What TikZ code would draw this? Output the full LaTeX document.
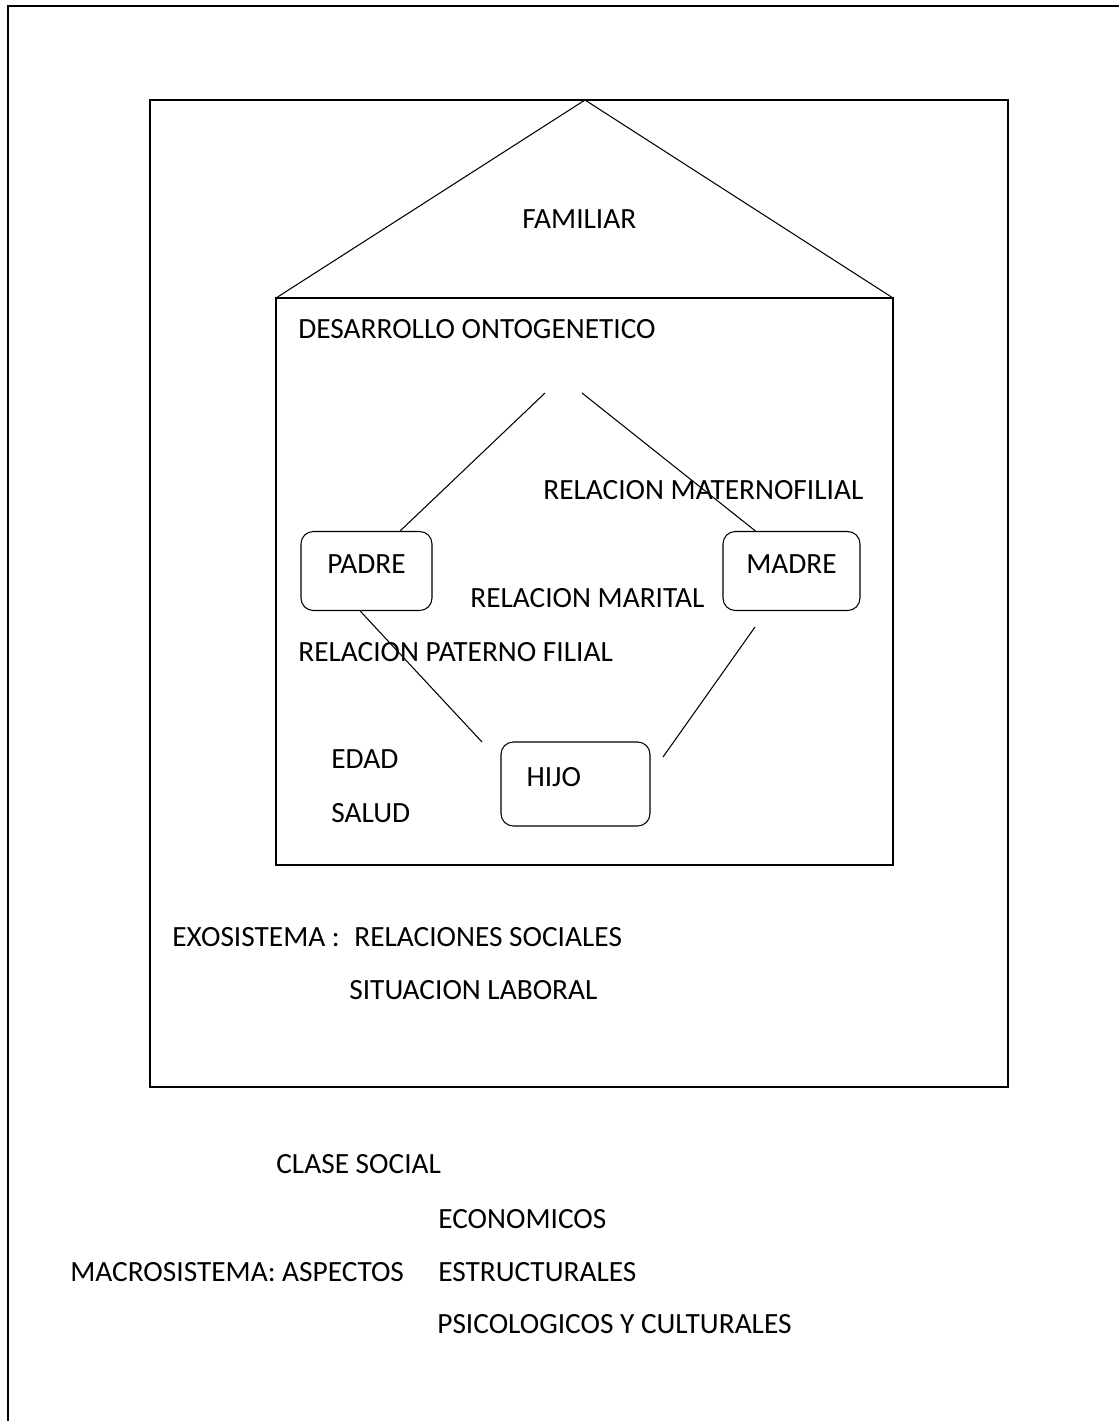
\documentclass[tikz,border=0pt]{standalone}
\usepackage{fontspec}
\setmainfont{Carlito}
\usetikzlibrary{positioning, calc}

\begin{document}
\begin{tikzpicture}[
    x=0.02cm, y=-0.02cm,
    font=\fontsize{16.7}{20}\selectfont,
    frame/.style={draw=black, line width=0.85pt},
    thin/.style={draw=black, line width=0.6pt},
    box/.style={rectangle, draw=black, line width=0.6pt, rounded corners=7pt,
                minimum width=#1, minimum height=1.58cm, inner sep=0pt,
                text height=0.36cm, text depth=0.28cm, align=center},
    txt/.style={anchor=base west, inner sep=0pt}
]
\useasboundingbox (0,0) rectangle (1119,1421);

% Page frame (macrosystem)
\draw[frame] (8,1421) -- (8,6) -- (1119,6);

% Exosystem
\draw[frame] (150,100) rectangle (1008,1087);

% House (family microsystem)
\draw[thin] (276,298) -- (585,100) -- (893,298);
\draw[frame] (276,298) rectangle (893,865);
\node[txt] (familiar) at (522,228) {FAMILIAR};
\node[txt] (onto) at (298,338) {DESARROLLO ONTOGENETICO};

% Parents and child
\node[box=2.62cm] (padre) at (366.5,571) {PADRE};
\node[box=2.74cm] (madre) at (791.5,571) {MADRE};
\node[box=2.98cm, text width=1.96cm, align=left, inner xsep=0.5cm,
      minimum height=1.68cm] (hijo) at (575.5,784) {HIJO};

% Free ends of the relation lines
\coordinate (topL) at (545,393);
\coordinate (topR) at (582,393);
\coordinate (hijoL) at (482,742);
\coordinate (hijoR) at (663,757);
\coordinate (madreB) at (755,627);

% Relations
\draw[thin] (padre.50) -- (topL);
\draw[thin] (madre.132) -- (topR);
\draw[thin] (padre.-99) -- (hijoL);
\draw[thin] (madreB) -- (hijoR);

\node[txt] (matfil) at (543,499) {RELACION MATERNOFILIAL};
\node[txt] (marital) at (470,607) {RELACION MARITAL};
\node[txt] (patfil) at (298,661) {RELACION PATERNO FILIAL};
\node[txt] (edad) at (331,768) {EDAD};
\node[txt] (salud) at (331,822) {SALUD};

% Exosystem labels
\node[txt] (exo) at (172,946) {EXOSISTEMA :};
\node[txt] (relsoc) at (354,946) {RELACIONES SOCIALES};
\node[txt] (laboral) at (349,999) {SITUACION LABORAL};

% Macrosystem labels
\node[txt] (clase) at (276,1173) {CLASE SOCIAL};
\node[txt] (econ) at (438,1228) {ECONOMICOS};
\node[txt] (macro) at (70,1281) {MACROSISTEMA: ASPECTOS};
\node[txt] (estruct) at (438,1281) {ESTRUCTURALES};
\node[txt] (psico) at (437,1333) {PSICOLOGICOS Y CULTURALES};

\end{tikzpicture}
\end{document}
